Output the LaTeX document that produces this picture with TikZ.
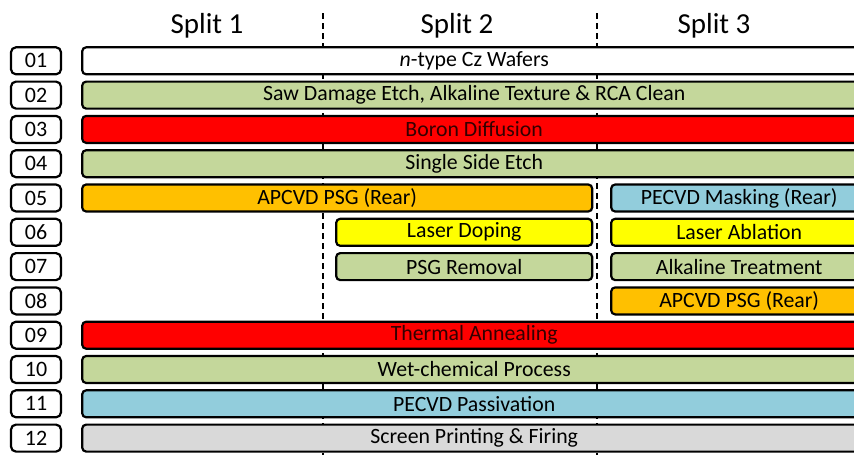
\documentclass[tikz,border=0pt]{standalone}
\usepackage{fontspec}
\setmainfont{Carlito}
\usetikzlibrary{positioning}

\definecolor{stepgreen}{HTML}{C4D79B}
\definecolor{stepred}{HTML}{FF0000}
\definecolor{steporange}{HTML}{FFC000}
\definecolor{stepyellow}{HTML}{FFFF00}
\definecolor{stepblue}{HTML}{92CDDC}
\definecolor{stepgray}{HTML}{D9D9D9}

\tikzset{
  numbox/.style={draw,line width=2.2pt,rounded corners=5pt,minimum width=50pt,minimum height=27pt,inner sep=0pt,font=\fontsize{22}{24}\selectfont},
  bar/.style={draw,line width=2.2pt,rounded corners=4pt,minimum height=27pt,inner sep=0pt,font=\fontsize{21.8}{24}\selectfont},
  fullbar/.style={bar,minimum width=784pt},
  halfbar/.style={bar,minimum width=256pt},
  divider/.style={line width=1.4pt,dash pattern=on 6pt off 4pt},
  splithead/.style={font=\fontsize{29}{31}\selectfont}
}

\begin{document}
\begin{tikzpicture}[x=1pt,y=-1pt]
\useasboundingbox (0,0) rectangle (854,455);
\clip (0,0) rectangle (854,455);

% split dividers
\coordinate (d1top) at (323,13);
\coordinate (d1bot) at (323,455);
\coordinate (d2top) at (597,13);
\coordinate (d2bot) at (597,455);
\draw[divider] (d1top) -- (d1bot);
\draw[divider] (d2top) -- (d2bot);

% headings
\node[splithead] (s1) at (207,26) {Split 1};
\node[splithead] (s2) at (457,26) {Split 2};
\node[splithead] (s3) at (714,26) {Split 3};

% step numbers
\foreach \i/\k in {01/0,02/1,03/2,04/3,05/4,06/5,07/6,08/7,09/8,10/9,11/10,12/11}
  \node[numbox,fill=white] (n\i) at (36,60.8+34.3*\k) {\i};

% process steps
\node[fullbar,fill=white]   (b01) [right=19pt of n01] {\textit{n}-type Cz Wafers};
\node[fullbar,fill=stepgreen] (b02) [right=19pt of n02] {Saw Damage Etch, Alkaline Texture \& RCA Clean};
\node[fullbar,fill=stepred,text=black!80!red] (b03) [right=19pt of n03] {Boron Diffusion};
\node[fullbar,fill=stepgreen] (b04) [right=19pt of n04] {Single Side Etch};
\node[bar,fill=steporange,minimum width=510pt] (b05a) [right=19pt of n05] {APCVD PSG (Rear)};
\node[halfbar,fill=stepblue] (b05c) [right=548pt of n05] {PECVD Masking (Rear)};
\node[halfbar,fill=stepyellow] (b06b) [right=273pt of n06] {Laser Doping};
\node[halfbar,fill=stepyellow] (b06c) [right=548pt of n06] {Laser Ablation};
\node[halfbar,fill=stepgreen] (b07b) [right=273pt of n07] {PSG Removal};
\node[halfbar,fill=stepgreen] (b07c) [right=548pt of n07] {Alkaline Treatment};
\node[halfbar,fill=steporange] (b08c) [right=548pt of n08] {APCVD PSG (Rear)};
\node[fullbar,fill=stepred,text=black!80!red] (b09) [right=19pt of n09] {Thermal Annealing};
\node[fullbar,fill=stepgreen] (b10) [right=19pt of n10] {Wet-chemical Process};
\node[fullbar,fill=stepblue] (b11) [right=19pt of n11] {PECVD Passivation};
\node[fullbar,fill=stepgray] (b12) [right=19pt of n12] {Screen Printing \& Firing};
\end{tikzpicture}
\end{document}
